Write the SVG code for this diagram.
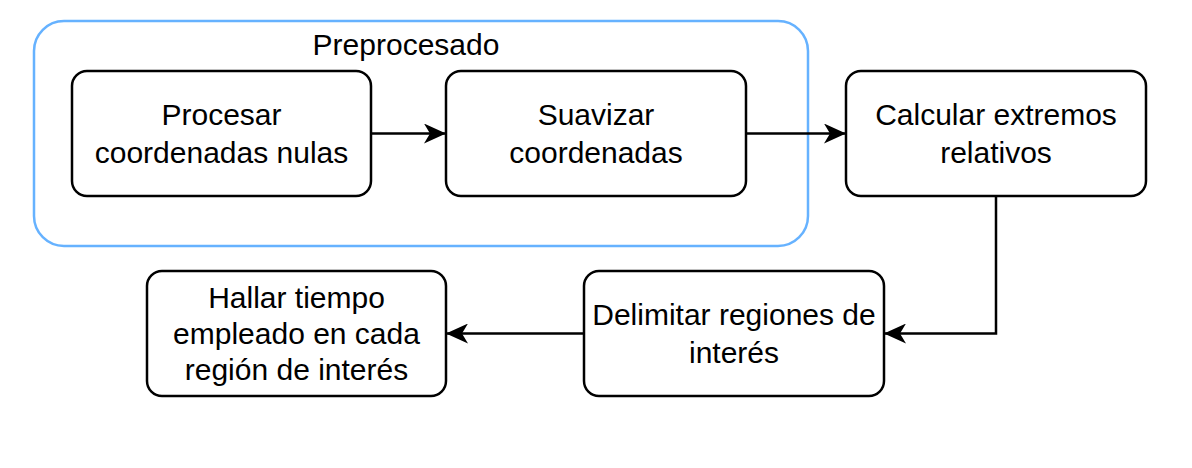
<svg xmlns="http://www.w3.org/2000/svg" width="1192" height="468" viewBox="0 0 1192 468">
<style>
.n{fill:#fff;stroke:#000;stroke-width:2.5}
.t{font-family:"Liberation Sans",Arial,sans-serif;font-size:30px;fill:#000;text-anchor:middle}
.c{fill:none;stroke:#000;stroke-width:2.5}
</style>
<defs>
<marker id="a" viewBox="0 0 22 20" refX="21" refY="10" markerWidth="22" markerHeight="20" markerUnits="userSpaceOnUse" orient="auto">
<path d="M0,0 L22,10 L0,20 L6,10 Z" fill="#000"/>
</marker>
</defs>
<rect width="1192" height="468" fill="#fff"/>
<g id="preprocesado">
<rect x="34" y="21" width="774" height="225" rx="30" fill="none" stroke="#66B2FF" stroke-width="2.5"/>
<text class="t" x="406" y="55">Preprocesado</text>
</g>
<g id="connectors">
<line class="c" x1="371" y1="133.5" x2="445" y2="133.5" marker-end="url(#a)"/>
<line class="c" x1="746" y1="133.5" x2="845" y2="133.5" marker-end="url(#a)"/>
<polyline class="c" points="996,196 996,333.5 885,333.5" marker-end="url(#a)"/>
<line class="c" x1="584" y1="333.5" x2="447" y2="333.5" marker-end="url(#a)"/>
</g>
<g id="procesar">
<rect class="n" x="72" y="71" width="299" height="125" rx="15"/>
<text class="t" x="221.5" y="125">Procesar</text>
<text class="t" x="221.5" y="163">coordenadas nulas</text>
</g>
<g id="suavizar">
<rect class="n" x="446" y="71" width="300" height="125" rx="15"/>
<text class="t" x="596" y="125">Suavizar</text>
<text class="t" x="596" y="163">coordenadas</text>
</g>
<g id="calcular">
<rect class="n" x="846" y="71" width="300" height="125" rx="15"/>
<text class="t" x="996" y="125">Calcular extremos</text>
<text class="t" x="996" y="163">relativos</text>
</g>
<g id="delimitar">
<rect class="n" x="584" y="271" width="300" height="125" rx="15"/>
<text class="t" x="734" y="325">Delimitar regiones de</text>
<text class="t" x="734" y="363">interés</text>
</g>
<g id="hallar">
<rect class="n" x="147" y="271" width="299" height="125" rx="15"/>
<text class="t" x="296.5" y="308">Hallar tiempo</text>
<text class="t" x="296.5" y="344">empleado en cada</text>
<text class="t" x="296.5" y="380">región de interés</text>
</g>
</svg>
